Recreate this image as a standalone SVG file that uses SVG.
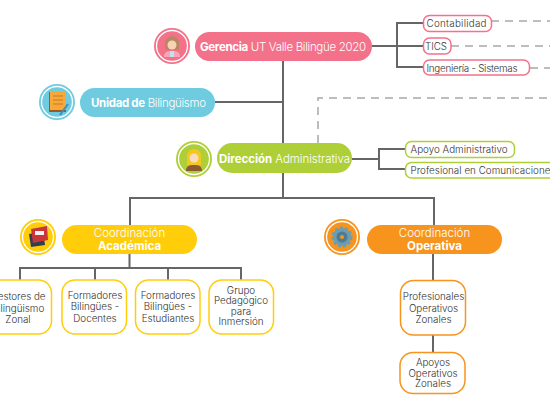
<svg xmlns="http://www.w3.org/2000/svg" width="550" height="400" viewBox="0 0 550 400">
<style>
text{font-family:"Inter","Lato","Open Sans","Liberation Sans",sans-serif}
.c{fill:none;stroke:#666;stroke-width:2}
.d{fill:none;stroke:#a8a8a8;stroke-width:1.500;stroke-dasharray:8 6}
.w{fill:#fff;font-size:11.500px;font-weight:300}
.b{font-weight:700}
.k{fill:#333;font-size:9.800px;font-weight:300}
.m{text-anchor:middle}
.ring{fill:none;stroke-width:1.300}
.box{fill:#fff;stroke-width:1.500}
</style>
<rect width="550" height="400" fill="#fff"/>
<g id="connectors">
<path class="c" d="M283 61V198M215 102H283M130 225V198H434V225M129.500 254V268M20 280V268H241V280M95 268V280M168 268V280M433 254V280M433 335V352M372 46H423M423 23H397V67H423M352 159H379M405 149H379V169H405"/>
<path class="d" d="M318 143V98H550M491 21H550M451 46H550M530 68H550"/>
</g>
<g id="gerencia">
<circle cx="172" cy="46" r="18" fill="#f4718a"/><circle cx="172" cy="46" r="15.500" class="ring" stroke="#fff"/>
<path d="M164 57c0-5 3-6 8-6s8 1 8 6z" fill="#f8a5b8"/><path d="M165 50v-7c0-9 14-9 14 0v7z" fill="#b98763"/><circle cx="172" cy="45" r="4.500" fill="#f7d2b5"/><rect x="170" y="51" width="4" height="6" fill="#bfe3ef"/>
<rect x="195" y="32" width="177" height="29" rx="14.500" fill="#f4718a"/>
<text class="w" x="200" y="50.500" textLength="166"><tspan class="b">Gerencia</tspan> UT Valle Bilingüe 2020</text>
</g>
<g id="unidad">
<circle cx="57" cy="102" r="18" fill="#6fcbe0"/><circle cx="57" cy="102" r="15.500" class="ring" stroke="#fff"/>
<rect x="49" y="92" width="17" height="20" fill="#9c5a1f"/><rect x="50" y="91" width="16" height="19" fill="#f7a83a"/><path d="M53 96h10M53 100h10M53 104h10" stroke="#c77c1c"/><path d="M60 115l8-11" stroke="#3a8fc4" stroke-width="2"/>
<rect x="80" y="88" width="135" height="29" rx="14.500" fill="#6fcbe0"/>
<text class="w" x="91" y="106.500" textLength="115"><tspan class="b">Unidad de</tspan> Bilingüismo</text>
</g>
<g id="direccion">
<circle cx="194" cy="159" r="18" fill="#afcf38"/><circle cx="194" cy="159" r="15.500" class="ring" stroke="#fff"/>
<path d="M186 171c0-5 3-6 8-6s8 1 8 6z" fill="#8a5a32"/><path d="M187 165v-9c0-9 14-9 14 0v9z" fill="#f4c81f"/><circle cx="194" cy="158" r="4.500" fill="#f9dcc0"/>
<rect x="217" y="143" width="135" height="30" rx="15" fill="#afcf38"/>
<text class="w" x="219" y="162.500" textLength="131"><tspan class="b">Dirección</tspan> Administrativa</text>
</g>
<g id="contabilidad"><rect class="box" x="423.500" y="15.500" width="68" height="16" rx="6" stroke="#f4718a"/><text class="k" x="426.500" y="27" textLength="60">Contabilidad</text></g>
<g id="tics"><rect class="box" x="423.500" y="38" width="27.500" height="16" rx="6" stroke="#f4718a"/><text class="k" x="425" y="50" textLength="22">TICS</text></g>
<g id="ingenieria"><rect class="box" x="423.500" y="60" width="106" height="15" rx="6" stroke="#f4718a"/><text class="k" x="426.500" y="71.500" textLength="91">Ingeniería - Sistemas</text></g>
<g id="apoyo"><rect class="box" x="405.500" y="141.500" width="109" height="16" rx="6" stroke="#afcf38"/><text class="k" x="410.500" y="153" textLength="97">Apoyo Administrativo</text></g>
<g id="profesional"><rect class="box" x="405.500" y="162.500" width="160" height="15.500" rx="6" stroke="#afcf38"/><text class="k" x="410.500" y="174" textLength="145">Profesional en Comunicaciones</text></g>
<g id="academica">
<circle cx="38" cy="237" r="18" fill="#ffcd0a"/><circle cx="38" cy="237" r="15.500" class="ring" stroke="#fff"/>
<path d="M29 234l14-2 2 13-14 2z" fill="#2e3f4f"/><path d="M31 229l16-3 1 14-15 3z" fill="#c9363a"/><rect x="35" y="231" width="9" height="4" fill="#f2f2f2"/>
<rect x="62" y="225" width="135" height="29" rx="14.500" fill="#ffcd0a"/>
<text class="w m" x="129.500" y="237">Coordinación</text><text class="w b m" x="129.500" y="250">Académica</text>
</g>
<g id="operativa">
<circle cx="342" cy="237" r="18" fill="#f7941e"/><circle cx="342" cy="237" r="15.500" class="ring" stroke="#fff"/>
<circle cx="342" cy="237" r="9" fill="#6d9db0" stroke="#6d9db0" stroke-width="3" stroke-dasharray="3 2"/><circle cx="342" cy="237" r="5.500" fill="#4c7d96"/><circle cx="342" cy="237" r="2" fill="#f7941e"/>
<rect x="367" y="225" width="135" height="29" rx="14.500" fill="#f7941e"/>
<text class="w m" x="434.500" y="237">Coordinación</text><text class="w b m" x="434.500" y="250">Operativa</text>
</g>
<g id="gestores"><rect class="box" x="-14" y="280" width="65.500" height="54" rx="13" stroke="#ffcd0a"/><text class="k m" x="18" y="300">Gestores de</text><text class="k m" x="18" y="311.500">Bilingüismo</text><text class="k m" x="18" y="323">Zonal</text></g>
<g id="docentes"><rect class="box" x="62" y="280" width="64.500" height="54" rx="13" stroke="#ffcd0a"/><text class="k m" x="95" y="298.500">Formadores</text><text class="k m" x="95" y="310">Bilingües -</text><text class="k m" x="95" y="321.500">Docentes</text></g>
<g id="estudiantes"><rect class="box" x="135.500" y="280" width="64.500" height="54" rx="13" stroke="#ffcd0a"/><text class="k m" x="168" y="298.500">Formadores</text><text class="k m" x="168" y="310">Bilingües -</text><text class="k m" x="168" y="321.500">Estudiantes</text></g>
<g id="grupo"><rect class="box" x="209" y="280" width="64.500" height="54" rx="13" stroke="#ffcd0a"/><text class="k m" x="241" y="293.500">Grupo</text><text class="k m" x="241" y="304">Pedagógico</text><text class="k m" x="241" y="314.500">para</text><text class="k m" x="241" y="325">Inmersión</text></g>
<g id="profesionales"><rect class="box" x="400.500" y="280.500" width="65" height="54.500" rx="13" stroke="#f7941e"/><text class="k m" x="433.500" y="300">Profesionales</text><text class="k m" x="433.500" y="311.500">Operativos</text><text class="k m" x="433.500" y="323">Zonales</text></g>
<g id="apoyos"><rect class="box" x="400" y="352.500" width="65" height="41" rx="13" stroke="#f7941e"/><text class="k m" x="433" y="366">Apoyos</text><text class="k m" x="433" y="376.500">Operativos</text><text class="k m" x="433" y="387">Zonales</text></g>
</svg>
